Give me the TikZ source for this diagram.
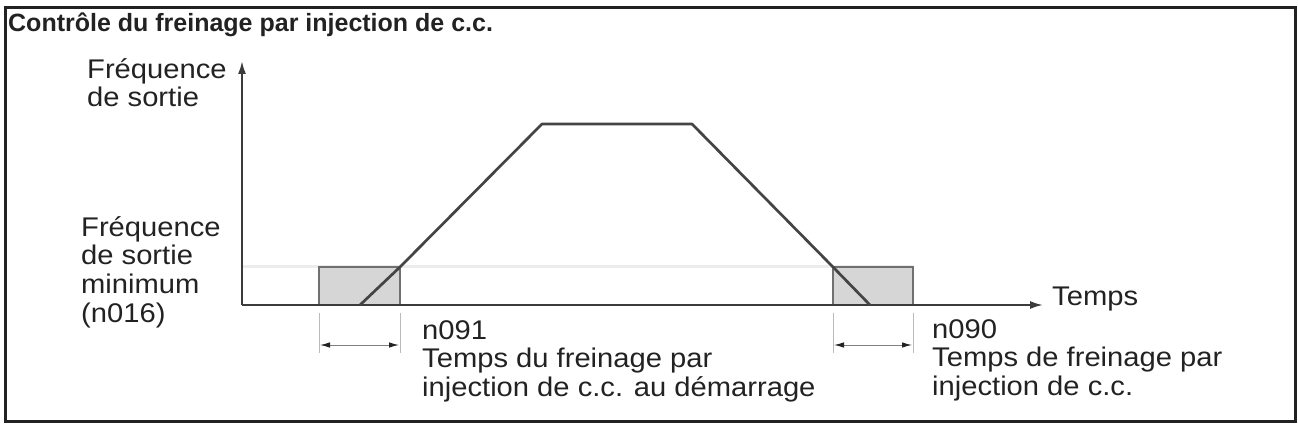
\documentclass[tikz,border=0pt]{standalone}
\usepackage{fontspec}
\setmainfont{Liberation Sans}
\newfontfamily\bodyfont[FakeStretch=1.08]{Liberation Sans}
\usetikzlibrary{arrows.meta}
\definecolor{txt}{HTML}{222222}
\definecolor{axisc}{HTML}{3C3C3C}
\definecolor{curvec}{HTML}{444444}
\definecolor{boxfill}{HTML}{D6D6D6}
\definecolor{boxline}{HTML}{707070}
\definecolor{tickc}{HTML}{BBBBBB}
\definecolor{faint}{HTML}{ECECEC}
\newcommand{\textlines}[1]{\begin{tabular}[t]{@{}l@{}}#1\end{tabular}}
\tikzset{
  frame/.style={draw=txt, line width=3pt},
  titletext/.style={font=\bfseries\fontsize{25}{28}\selectfont, text=txt, inner sep=0pt},
  lbl/.style={font=\bodyfont\fontsize{27}{28.7}\selectfont, text=txt, inner sep=0pt},
  axisline/.style={draw=axisc, line width=2pt},
  curveline/.style={draw=curvec, line width=2.7pt, line join=round},
  brakebox/.style={draw=boxline, fill=boxfill, line width=1.6pt},
  tickline/.style={draw=tickc, line width=1pt},
  dimline/.style={draw=gray, line width=1pt, {Latex[length=10pt,width=5.5pt,color=txt]}-{Latex[length=10pt,width=5.5pt,color=txt]}},
  faintline/.style={draw=faint, line width=2.5pt}
}
\begin{document}
\begin{tikzpicture}[x=1pt,y=-1pt]
\useasboundingbox (0,0) rectangle (1298,428);
\draw[frame] (5,7.5) rectangle (1295,421);
\node[titletext, anchor=base west] (title) at (8,32) {Contrôle du freinage par injection de c.c.};

% axes points
\coordinate (O) at (242,305);
\coordinate (ytop) at (242,61);
\coordinate (xend) at (1043,305);

% faint minimum frequency line
\coordinate (fminL) at (242,266.5);
\coordinate (fminR) at (913,266.5);
\draw[faintline] (fminL) -- (fminR);

% braking boxes
\draw[brakebox] (319,267) coordinate (b1a) rectangle (400,305) coordinate (b1b);
\draw[brakebox] (833,267) coordinate (b2a) rectangle (913,305) coordinate (b2b);

% axes
\draw[axisline, -{Latex[length=13pt,width=8pt]}] (O) -- (ytop);
\draw[axisline, -{Latex[length=13pt,width=8pt]}] (O) -- (xend);

% frequency profile
\coordinate (p0) at (360,305);
\coordinate (p1) at (400,267);
\coordinate (p2) at (542,124);
\coordinate (p3) at (692,124);
\coordinate (p4) at (833,267);
\coordinate (p5) at (870,305);
\draw[curveline] (p0) -- (p1) -- (p2) -- (p3) -- (p4) -- (p5);

% dimension marks
\coordinate (t1a) at (319,313); \coordinate (t1b) at (319,353);
\coordinate (t2a) at (400,313); \coordinate (t2b) at (400,353);
\coordinate (t3a) at (833,313); \coordinate (t3b) at (833,353);
\coordinate (t4a) at (913,313); \coordinate (t4b) at (913,353);
\draw[tickline] (t1a) -- (t1b);
\draw[tickline] (t2a) -- (t2b);
\draw[tickline] (t3a) -- (t3b);
\draw[tickline] (t4a) -- (t4b);
\coordinate (d1a) at (320,345); \coordinate (d1b) at (399,345);
\coordinate (d2a) at (834,345); \coordinate (d2b) at (912,345);
\draw[dimline] (d1a) -- (d1b);
\draw[dimline] (d2a) -- (d2b);

% labels
\node[lbl, anchor=base west] (ylab) at (87,78) {\textlines{Fréquence\\de sortie}};
\node[lbl, anchor=base west] (fmin) at (81,236) {\textlines{Fréquence\\de sortie\\minimum\\(n016)}};
\node[lbl, anchor=base west] (xlab) at (1052,305) {Temps};
\node[lbl, anchor=base west] (n091) at (422,339) {\textlines{n091\\Temps du freinage par\\injection de c.c. au démarrage}};
\node[lbl, anchor=base west] (n090) at (932,338) {\textlines{n090\\Temps de freinage par\\injection de c.c.}};
\end{tikzpicture}
\end{document}
